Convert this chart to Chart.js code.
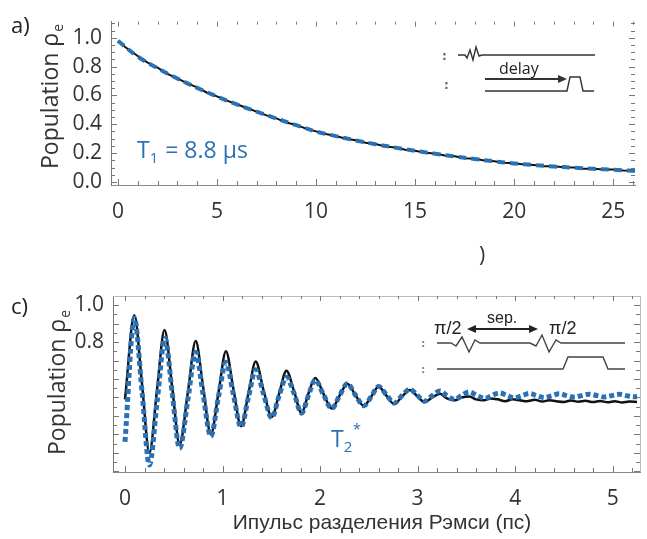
<!DOCTYPE html>
<html><head><meta charset="utf-8">
<script src="https://cdn.jsdelivr.net/npm/chart.js@4.4.1/dist/chart.umd.min.js"></script>
<style>
html,body{margin:0;padding:0;background:#fff;width:647px;height:539px;overflow:hidden}
canvas{position:absolute;left:0}
#c1{top:0}
#c2{top:270px}
</style></head><body>
<canvas id="c1" width="647" height="270"></canvas>
<canvas id="c2" width="647" height="269"></canvas>
<script>
// ---------- Panel a: T1 decay ----------
const t1Time = [0,0.5,1,1.5,2,2.5,3,3.5,4,4.5,5,5.5,6,6.5,7,7.5,8,8.5,9,9.5,10,10.5,11,11.5,12,12.5,13,13.5,14,14.5,15,15.5,16,16.5,17,17.5,18,18.5,19,19.5,20,20.5,21,21.5,22,22.5,23,23.5,24,24.5,25,25.5,26,26.5];
const t1Measured = [0.975,0.923,0.874,0.828,0.793,0.750,0.719,0.684,0.656,0.619,0.594,0.564,0.539,0.513,0.488,0.462,0.441,0.412,0.395,0.370,0.351,0.332,0.319,0.300,0.289,0.272,0.263,0.246,0.239,0.224,0.217,0.203,0.197,0.184,0.178,0.165,0.160,0.148,0.144,0.133,0.129,0.121,0.118,0.109,0.108,0.101,0.100,0.092,0.092,0.086,0.086,0.079,0.078,0.073];
const t1FitTime = [0,1,2,3,4,5,6,7,8,9,10,11,12,13,14,15,16,17,18,19,20,21,22,23,24,25,26,27];
const t1Fit = [0.98,0.87,0.79,0.718,0.653,0.593,0.538,0.488,0.44,0.394,0.35,0.318,0.288,0.262,0.238,0.216,0.196,0.177,0.159,0.143,0.128,0.117,0.107,0.099,0.091,0.085,0.077,0.072];
const t1XTicks = [0,5,10,15,20,25];
const t1YTicks = [0.0,0.2,0.4,0.6,0.8,1.0];

// ---------- Panel c: Ramsey ----------
const ramTime = [0.00,0.096,0.175,0.25,0.33,0.405,0.485,0.56,0.645,0.725,0.80,0.88,0.96,1.035,1.11,1.19,1.265,1.34,1.42,1.505,1.58,1.655,1.735,1.81,1.88,1.95,2.035,2.12,2.20,2.28,2.36,2.45,2.53,2.60,2.68,2.76,2.84,2.92,3.00,3.07,3.15,3.23,3.30,3.38,3.45,3.53,3.60,3.68,3.75,3.82,3.90,3.97,4.05,4.12,4.20,4.28,4.35,4.42,4.50,4.57,4.65,4.72,4.80,4.87,4.95,5.02,5.10,5.17,5.25];
const ramMeasured = [0.49,0.945,0.57,0.20,0.55,0.865,0.55,0.245,0.53,0.805,0.56,0.30,0.53,0.75,0.55,0.345,0.52,0.695,0.54,0.395,0.52,0.645,0.53,0.415,0.52,0.605,0.52,0.44,0.51,0.575,0.515,0.455,0.51,0.56,0.51,0.465,0.505,0.54,0.505,0.475,0.50,0.52,0.495,0.485,0.50,0.505,0.49,0.485,0.495,0.49,0.48,0.49,0.485,0.48,0.488,0.478,0.485,0.48,0.476,0.484,0.477,0.482,0.475,0.481,0.474,0.48,0.473,0.478,0.476];
const ramFitTime = [0.00,0.096,0.175,0.25,0.33,0.41,0.485,0.56,0.645,0.725,0.80,0.88,0.96,1.035,1.11,1.19,1.265,1.34,1.42,1.505,1.58,1.655,1.735,1.81,1.88,1.95,2.035,2.12,2.20,2.28,2.36,2.45,2.53,2.60,2.68,2.76,2.84,2.92,3.00,3.07,3.15,3.23,3.30,3.38,3.45,3.53,3.61,3.69,3.76,3.84,3.92,3.99,4.07,4.15,4.22,4.30,4.38,4.45,4.53,4.61,4.68,4.76,4.84,4.91,4.99,5.07,5.14,5.22,5.25];
const ramFit = [0.26,0.93,0.53,0.135,0.48,0.82,0.52,0.225,0.49,0.745,0.52,0.29,0.51,0.69,0.52,0.34,0.50,0.65,0.52,0.39,0.51,0.61,0.52,0.415,0.51,0.595,0.515,0.44,0.51,0.575,0.515,0.455,0.51,0.56,0.515,0.47,0.51,0.545,0.51,0.48,0.51,0.535,0.51,0.49,0.51,0.53,0.51,0.495,0.51,0.525,0.51,0.498,0.51,0.522,0.51,0.50,0.51,0.52,0.51,0.502,0.51,0.518,0.51,0.503,0.51,0.517,0.51,0.504,0.505];
const ramXTicks = [0,1,2,3,4,5];
const ramYLabels = [0.8,1.0];

const BLUE = '#2a70b5';
const pts = (xs, ys) => xs.map((x, i) => ({x, y: ys[i]}));

function tickLines(chart, o) {
  const {ctx, chartArea: a} = chart;
  const x = chart.scales.x, y = chart.scales.y;
  ctx.save();
  ctx.lineWidth = 1;
  const X = v => Math.round(x.getPixelForValue(v)) + 0.5;
  const Y = v => Math.round(y.getPixelForValue(v)) + 0.5;
  ctx.strokeStyle = o.color;
  for (let i = Math.ceil(x.min / o.xStep); i * o.xStep <= x.max + 1e-9; i++) {
    const v = i * o.xStep, px = X(v);
    const maj = Math.abs(v / o.xMajor - Math.round(v / o.xMajor)) < 1e-6;
    const L = maj ? o.lenMaj : o.lenMin;
    ctx.beginPath(); ctx.moveTo(px, a.bottom); ctx.lineTo(px, a.bottom - L); ctx.stroke();
    ctx.beginPath(); ctx.moveTo(px, a.top); ctx.lineTo(px, a.top + L - 1); ctx.stroke();
  }
  for (let i = Math.ceil(y.min / o.yStep); i * o.yStep <= y.max + 1e-9; i++) {
    const v = i * o.yStep, py = Y(v);
    const maj = Math.abs(v / o.yMajor - Math.round(v / o.yMajor)) < 1e-6;
    const L = maj ? o.lenMaj : o.lenMin;
    ctx.beginPath(); ctx.moveTo(a.left, py); ctx.lineTo(a.left + L, py); ctx.stroke();
    ctx.beginPath(); ctx.moveTo(a.right, py); ctx.lineTo(a.right - L, py); ctx.stroke();
  }
  ctx.restore();
}

function yTitle(ctx, cx, cy) {
  ctx.save();
  ctx.fillStyle = '#333';
  ctx.translate(cx, cy);
  ctx.rotate(-Math.PI / 2);
  ctx.font = '23px "Open Sans"';
  const main = 'Population ρ';
  const w1 = ctx.measureText(main).width;
  ctx.font = '14px "Open Sans"';
  const w2 = ctx.measureText('e').width;
  const x0 = -(w1 + w2) / 2;
  ctx.textBaseline = 'alphabetic';
  ctx.font = '23px "Open Sans"';
  ctx.fillText(main, x0, 8);
  ctx.font = '14px "Open Sans"';
  ctx.fillText('e', x0 + w1 + 1, 13);
  ctx.restore();
}

function arrowHead(ctx, x, y, dir) {
  ctx.beginPath();
  ctx.moveTo(x, y);
  ctx.lineTo(x - dir * 9, y - 4);
  ctx.lineTo(x - dir * 9, y + 4);
  ctx.closePath();
  ctx.fill();
}

function poly(ctx, p) {
  ctx.beginPath();
  ctx.moveTo(p[0][0], p[0][1]);
  for (let i = 1; i < p.length; i++) ctx.lineTo(p[i][0], p[i][1]);
  ctx.stroke();
}

const deco1 = {
  id: 'deco1',
  beforeDatasetsDraw(chart) {
    tickLines(chart, {color: '#777', xStep: 1, xMajor: 5, yStep: 0.05, yMajor: 0.2, lenMaj: 6, lenMin: 4});
  },
  afterDraw(chart) {
    const ctx = chart.ctx;
    yTitle(ctx, 50, 97);
    ctx.save();
    ctx.fillStyle = '#222';
    ctx.font = '22px "Open Sans"';
    ctx.textBaseline = 'alphabetic';
    ctx.fillText('a)', 11, 33);
    ctx.fillStyle = '#333';
    ctx.font = '21px "Open Sans"';
    ctx.fillText(')', 479, 262);
    // T1 label
    ctx.fillStyle = BLUE;
    ctx.font = '23px "Open Sans"';
    ctx.fillText('T', 137, 158);
    let w = ctx.measureText('T').width;
    ctx.font = '15px "Open Sans"';
    ctx.fillText('1', 137 + w, 163);
    w += ctx.measureText('1').width;
    ctx.font = '23px "Open Sans"';
    ctx.fillText(' = 8.8 μs', 137 + w + 1, 158);
    // inset
    ctx.strokeStyle = '#333';
    ctx.fillStyle = '#333';
    ctx.lineWidth = 1.4;
    poly(ctx, [[458,55],[465,55],[467,58],[470,50],[473,60],[476,47],[479,56],[482,55],[595,55]]);
    poly(ctx, [[485,91],[567,91],[570,77],[580,77],[583,91],[594,91]]);
    ctx.lineWidth = 1.8;
    poly(ctx, [[485,79],[560,79]]);
    arrowHead(ctx, 567, 79, 1);
    ctx.font = '16px "Open Sans"';
    ctx.fillStyle = '#222';
    ctx.fillText('delay', 499, 74);
    ctx.fillStyle = '#666';
    ctx.font = 'bold 12px "DejaVu Sans"';
    ctx.fillText(':', 442, 60);
    ctx.fillText(':', 444, 89);
    ctx.restore();
  }
};

const deco2 = {
  id: 'deco2',
  beforeDatasetsDraw(chart) {
    const {ctx, chartArea: a} = chart;
    ctx.save();
    ctx.strokeStyle = '#bbb';
    ctx.lineWidth = 1;
    ctx.beginPath();
    ctx.moveTo(a.left, a.top + 0.5); ctx.lineTo(a.right + 0.5, a.top + 0.5);
    ctx.lineTo(a.right + 0.5, a.bottom);
    ctx.stroke();
    ctx.restore();
    tickLines(chart, {color: '#777', xStep: 0.2, xMajor: 1, yStep: 0.05, yMajor: 0.1, lenMaj: 6, lenMin: 4});
  },
  afterDraw(chart) {
    const ctx = chart.ctx;
    yTitle(ctx, 57, 113);
    ctx.save();
    ctx.fillStyle = '#222';
    ctx.font = '22px "Open Sans"';
    ctx.textBaseline = 'alphabetic';
    ctx.fillText('c)', 11, 44);
    // x title
    ctx.fillStyle = '#333';
    ctx.font = '21px "Liberation Sans"';
    ctx.textAlign = 'center';
    ctx.fillText('Ипульс разделения Рэмси (пс)', 382, 259);
    ctx.textAlign = 'left';
    // T2*
    ctx.fillStyle = BLUE;
    ctx.font = '23px "Open Sans"';
    ctx.fillText('T', 331, 177);
    let w = ctx.measureText('T').width;
    ctx.font = '15px "Open Sans"';
    ctx.fillText('2', 331 + w, 182);
    ctx.fillText('*', 331 + w + 9, 164);
    // inset
    ctx.strokeStyle = '#444';
    ctx.lineWidth = 1.4;
    poly(ctx, [[437,73],[451,73],[456,76],[462,67],[469,82],[475,70],[480,73],[530,73],[536,76],[542,65],[549,82],[556,70],[561,73],[625,73]]);
    poly(ctx, [[437,99],[563,99],[568,87],[603,87],[608,99],[625,99]]);
    ctx.strokeStyle = '#222';
    ctx.fillStyle = '#222';
    ctx.lineWidth = 1.8;
    poly(ctx, [[474,59],[531,59]]);
    arrowHead(ctx, 467, 59, -1);
    arrowHead(ctx, 538, 59, 1);
    ctx.font = '18px "Liberation Sans"';
    ctx.fillText('π/2', 434, 64);
    ctx.fillText('π/2', 549, 64);
    ctx.font = '16px "Liberation Sans"';
    ctx.fillText('sep.', 487, 53);
    ctx.fillStyle = '#888';
    ctx.font = 'bold 11px "DejaVu Sans"';
    ctx.fillText(':', 421, 77);
    ctx.fillText(':', 421, 103);
    ctx.restore();
  }
};

const tickFont = {family: '"Open Sans"', size: 21};

new Chart(document.getElementById('c1'), {
  type: 'line',
  data: {
    datasets: [
      {label: 'fit', data: pts(t1FitTime, t1Fit), borderColor: BLUE, borderWidth: 4, borderDash: [8, 5], pointRadius: 0, tension: 0.4, fill: false},
      {label: 'data', data: pts(t1Time, t1Measured), borderColor: '#111', borderWidth: 2, pointRadius: 0, tension: 0, fill: false}
    ]
  },
  options: {
    responsive: false, animation: false, events: [],
    layout: {padding: {left: 0, right: 12, top: 11, bottom: 0}},
    plugins: {legend: {display: false}, tooltip: {enabled: false}},
    scales: {
      x: {type: 'linear', min: -0.35, max: 26.1,
        afterFit: s => { s.height = 85; },
        afterBuildTicks: s => { s.ticks = t1XTicks.map(v => ({value: v})); },
        grid: {display: false, drawTicks: false},
        border: {display: true, color: '#888', width: 1},
        ticks: {padding: 14, color: '#333', font: tickFont, maxRotation: 0, callback: v => String(v)}},
      y: {type: 'linear', min: -0.0215, max: 1.113,
        afterFit: s => { s.width = 111; },
        afterBuildTicks: s => { s.ticks = t1YTicks.map(v => ({value: v})); },
        grid: {display: false, drawTicks: false},
        border: {display: true, color: '#777', width: 1},
        ticks: {padding: 9, color: '#333', font: tickFont, callback: v => v.toFixed(1)}}
    }
  },
  plugins: [deco1]
});

new Chart(document.getElementById('c2'), {
  type: 'line',
  data: {
    datasets: [
      {label: 'fit', data: pts(ramFitTime, ramFit), borderColor: BLUE, borderWidth: 5, borderDash: [5, 3], pointRadius: 0, cubicInterpolationMode: 'monotone', fill: false},
      {label: 'data', data: pts(ramTime, ramMeasured), borderColor: '#111', borderWidth: 2.5, pointRadius: 0, cubicInterpolationMode: 'monotone', fill: false}
    ]
  },
  options: {
    responsive: false, animation: false, events: [],
    layout: {padding: {left: 0, right: 7, top: 26, bottom: 0}},
    plugins: {legend: {display: false}, tooltip: {enabled: false}},
    scales: {
      x: {type: 'linear', min: -0.123, max: 5.28,
        afterFit: s => { s.height = 67; },
        afterBuildTicks: s => { s.ticks = ramXTicks.map(v => ({value: v})); },
        grid: {display: false, drawTicks: false},
        border: {display: true, color: '#888', width: 1},
        ticks: {padding: 14, color: '#333', font: tickFont, maxRotation: 0, callback: v => String(v)}},
      y: {type: 'linear', min: 0.097, max: 1.049,
        afterFit: s => { s.width = 113; },
        afterBuildTicks: s => { s.ticks = ramYLabels.map(v => ({value: v})); },
        grid: {display: false, drawTicks: false},
        border: {display: true, color: '#777', width: 1},
        ticks: {padding: 9, color: '#333', font: tickFont, callback: v => v.toFixed(1)}}
    }
  },
  plugins: [deco2]
});
</script>
</body></html>
